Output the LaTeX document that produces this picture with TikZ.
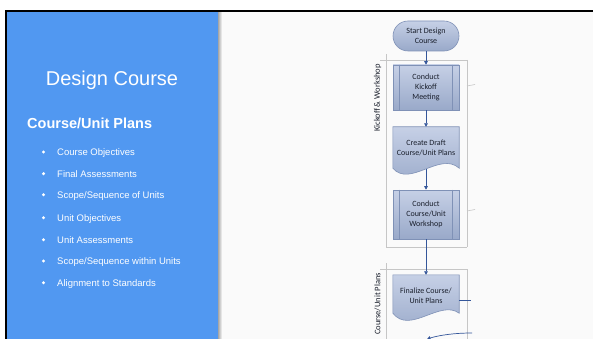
\documentclass[tikz,border=0pt]{standalone}
\usepackage{fontspec}
\setmainfont{Liberation Sans}
\newfontfamily\flowfont{Carlito}
\usetikzlibrary{arrows.meta,calc}
\definecolor{panelblue}{HTML}{5198F1}
\definecolor{bgray}{HTML}{FAFAFA}
\definecolor{lanegray}{HTML}{C6C6C6}
\definecolor{boxtop}{HTML}{C6D0E6}
\definecolor{boxbot}{HTML}{99A9C9}
\definecolor{boxedge}{HTML}{7F91B6}
\definecolor{arrowblue}{HTML}{34569A}
\definecolor{flowtext}{HTML}{1A1F2C}
\tikzset{
 flowbox/.style={draw=boxedge, line width=0.6pt, top color=boxtop, bottom color=boxbot},
 flowlabel/.style={font=\flowfont\fontsize{8}{10}\selectfont, text=flowtext, align=center, inner sep=0pt},
 lanelabel/.style={font=\flowfont\fontsize{8.5}{10}\selectfont, text=flowtext, rotate=90, inner sep=0pt},
 flowarrow/.style={draw=arrowblue, line width=0.7pt, -{Triangle[length=3.5pt,width=3.6pt]}},
 flowline/.style={draw=arrowblue, line width=0.7pt},
 laneline/.style={draw=lanegray, line width=0.6pt},
 bulletitem/.style={font=\fontsize{9.5}{11}\selectfont, text=white, anchor=base west, inner sep=0pt},
 bulletdot/.style={fill=white, draw=none, circle, inner sep=0pt, minimum size=3.4pt},
}
\begin{document}
\begin{tikzpicture}[x=1pt,y=-1pt]
\useasboundingbox (0,0) rectangle (593,339);
% background
\fill[white] (0,0) rectangle (593,339);
\fill[bgray] (218,12) rectangle (593,339);
\shade[left color=black!35, right color=bgray] (218,12) rectangle (222,339);
\fill[panelblue] (7,12) rectangle (218,339);
\fill[black] (5,10) rectangle (593,12);
\fill[black] (5,10) rectangle (7,339);

% left panel text
\node[anchor=base, inner sep=0pt, text=white, font=\fontsize{20}{24}\selectfont] (title) at (112,85.5) {Design Course};
\node[anchor=base west, inner sep=0pt, text=white, font=\bfseries\fontsize{14.5}{17}\selectfont] (sub) at (27,128.3) {Course/Unit Plans};
\node[bulletdot] (dot1) at (43.5,152) {};
\node[bulletitem] (item1) at (57,155.3) {Course Objectives};
\node[bulletdot] (dot2) at (43.5,173.7) {};
\node[bulletitem] (item2) at (57,177) {Final Assessments};
\node[bulletdot] (dot3) at (43.5,194.7) {};
\node[bulletitem] (item3) at (57,198) {Scope/Sequence of Units};
\node[bulletdot] (dot4) at (43.5,217.7) {};
\node[bulletitem] (item4) at (57,221) {Unit Objectives};
\node[bulletdot] (dot5) at (43.5,239.7) {};
\node[bulletitem] (item5) at (57,243) {Unit Assessments};
\node[bulletdot] (dot6) at (43.5,261) {};
\node[bulletitem] (item6) at (57,264.3) {Scope/Sequence within Units};
\node[bulletdot] (dot7) at (43.5,282.7) {};
\node[bulletitem] (item7) at (57,286) {Alignment to Standards};

% swimlanes
\draw[laneline] (380,60) -- (467,60);
\draw[laneline] (386,54) -- (386,247);
\draw[laneline] (467,60) -- (467,247);
\draw[laneline] (386,247) -- (467,247);
\draw[laneline] (380,269) -- (467,269);
\draw[laneline] (386,263) -- (386,339);
\draw[laneline] (467,269) -- (467,339);
\node[lanelabel] (lane1) at (377.5,98) {Kickoff \& Workshop};
\node[lanelabel] (lane2) at (377.5,304) {Course/Unit Plans};

% start
\node[flowbox, rectangle, rounded corners=15pt, minimum width=66pt, minimum height=30pt, flowlabel] (start) at (426,36) {Start Design\\Course};

% kickoff (predefined process)
\node[flowbox, rectangle, minimum width=66pt, minimum height=45pt, flowlabel] (kick) at (426,87.5) {Conduct\\Kickoff\\Meeting};
\draw[draw=boxedge, line width=0.5pt] ($(kick.north west)+(7,0)$) -- ($(kick.south west)+(7,0)$);
\draw[draw=boxedge, line width=0.5pt] ($(kick.north east)+(-7,0)$) -- ($(kick.south east)+(-7,0)$);

% draft document
\node[rectangle, minimum width=66pt, minimum height=44pt, inner sep=0pt] (draft) at (426,149) {};
\path[flowbox] (draft.north west) -- (draft.north east) -- ($(draft.south east)+(0,-3)$)
   .. controls (440,151) and (410,188) .. ($(draft.south west)+(0,-3)$) -- cycle;
\node[flowlabel] (drafttext) at (426,147.5) {Create Draft\\Course/Unit Plans};
\coordinate (draftwave) at (426,169);

% workshop (predefined process)
\node[flowbox, rectangle, minimum width=66pt, minimum height=49pt, flowlabel] (work) at (426,214.5) {Conduct\\Course/Unit\\Workshop};
\draw[draw=boxedge, line width=0.5pt] ($(work.north west)+(7,0)$) -- ($(work.south west)+(7,0)$);
\draw[draw=boxedge, line width=0.5pt] ($(work.north east)+(-7,0)$) -- ($(work.south east)+(-7,0)$);

% finalize document
\node[rectangle, minimum width=66pt, minimum height=40pt, inner sep=0pt] (fin) at (426,295) {};
\path[flowbox] (fin.north west) -- (fin.north east) -- ($(fin.south east)+(0,-2)$)
   .. controls (440,299) and (410,335) .. ($(fin.south west)+(0,-2)$) -- cycle;
\node[flowlabel] (fintext) at (426,296) {Finalize Course/\\Unit Plans};

% connectors
\draw[flowarrow] (start.south) -- (kick.north);
\draw[flowarrow] (kick.south) -- (draft.north);
\draw[flowarrow] (draftwave) -- (work.north);
\draw[flowarrow] (work.south) -- (fin.north);

% stubs going off to the right
\coordinate (k1) at (467,86);
\coordinate (k2) at (475,84.5);
\draw[laneline] (k1) -- (k2);
\coordinate (w1) at (467,211);
\coordinate (w2) at (475,209.5);
\draw[laneline] (w1) -- (w2);
\coordinate (f2) at (471,300);
\draw[flowline] (fin.east |- f2) -- (f2);
\coordinate (c1) at (472,333);
\coordinate (c2) at (427,339);
\draw[flowarrow] (c1) .. controls (455,333) and (440,335) .. (c2);
\end{tikzpicture}
\end{document}
